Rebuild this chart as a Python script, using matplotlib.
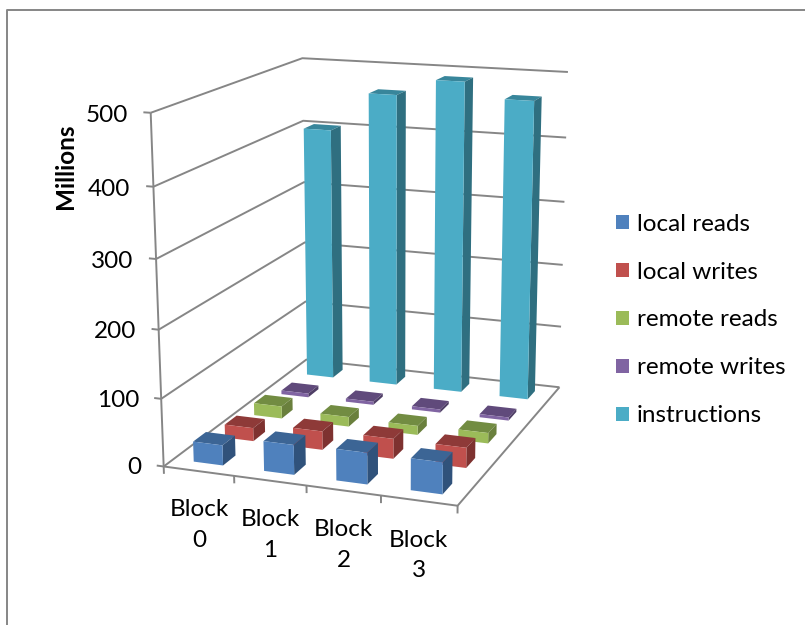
#!/usr/bin/env python3
# -*- coding: utf-8 -*-

import numpy as np
import matplotlib
matplotlib.use('Agg')
import matplotlib.pyplot as plt
from matplotlib.lines import Line2D
from matplotlib.patches import Patch
from mpl_toolkits.mplot3d.art3d import Line3DCollection

plt.rcParams['font.family'] = ['Lato', 'DejaVu Sans']

blocks = ['Block\n0', 'Block\n1', 'Block\n2', 'Block\n3']
series = ['local reads', 'local writes', 'remote reads', 'remote writes', 'instructions']
local_reads = [30, 44, 46, 46]
local_writes = [20, 28, 30, 30]
remote_reads = [19, 15, 14, 16]
remote_writes = [6, 5, 5, 5]
instructions = [402, 463, 489, 466]
z_ticks = [0, 100, 200, 300, 400, 500]

# front, top and side shades per series
front_colors = ['#4F81BD', '#C0504D', '#9BBB59', '#8064A2', '#4BACC6']
top_colors = ['#3C6595', '#8E3A38', '#728C42', '#604A7B', '#38869B']
side_colors = ['#30527B', '#7E3230', '#6A803D', '#4F3E66', '#2F6F80']
GRID = '#868686'
W, H = 805, 625

# box corners in data units and where they sit on the canvas, for the camera
box_corners = [(0, 0, 0), (4, 0, 0), (4, 5, 0), (0, 5, 0), (0, 0, 500), (0, 5, 500), (4, 5, 500)]
box_pixels = [(163, 466), (458, 506), (559, 387), (307, 360), (151, 113), (302, 58), (568, 72)]


def fit_camera(corners, pixels):
    # plain DLT on normalised coordinates, 3x4 matrix from data to pixels
    rows = []
    for (X, Y, Z), (u, v) in zip(corners, pixels):
        p = [X / 4, Y / 5, Z / 500, 1]
        u, v = u / W, v / H
        rows.append(p + [0, 0, 0, 0] + [-u * c for c in p])
        rows.append([0, 0, 0, 0] + p + [-v * c for c in p])
    P = np.linalg.svd(np.array(rows))[2][-1].reshape(3, 4)
    P = np.diag([W, H, 1]) @ P @ np.diag([1 / 4, 1 / 5, 1 / 500, 1])
    return P / (P[2] @ [2, 2.5, 250, 1])


camera = fit_camera(box_corners, box_pixels)


def get_proj():
    # pixels (y down) -> display -> the 2D limits of the 3d axes
    to_display = np.array([[1, 0, 0], [0, -1, H], [0, 0, 1]], dtype=float)
    A = ax.transData.inverted().get_matrix() @ to_display @ camera
    depth = np.array([-0.1, 1, 0, 0])
    return np.vstack([A[0], A[1], depth, A[2]])


def label(x, y, z, s, **kw):
    # text at a data position, placed in figure coordinates
    u, v, w = camera @ [x, y, z, 1]
    fig.text(u / w / W, 1 - v / w / H, s, fontsize=17.5, color='black', **kw)


fig = plt.figure(figsize=(W / 100, H / 100), dpi=100)
ax = fig.add_axes([0, 0, 1, 1], projection='3d')
ax.get_proj = get_proj
ax.set_xticks([])
ax.set_yticks([])
ax.set_zticks([])
ax.set_axis_off()
ax.computed_zorder = False

# walls, floor and ticks as one set of segments
segments = []
for v in z_ticks:
    segments.append([(0, 0, v), (0, 5, v), (4, 5, v)])
    segments.append([(-0.1, 0, v), (0, 0, v)])
segments.append([(0, 0, 0), (0, 0, 500)])
segments.append([(0, 0, 0), (4, 0, 0), (4, 5, 0)])
for i in range(len(blocks) + 1):
    segments.append([(i, 0, 0), (i, 0, -11)])
grid = Line3DCollection(segments, colors=GRID, linewidths=1.4, zorder=1)
ax.add_collection3d(grid, autolim=False)

for v in z_ticks:
    label(-0.32, 0, v - 6, str(v), ha='right', va='center')
for i, name in enumerate(blocks):
    label(i + 0.5, 0, -42, name, ha='center', va='top', linespacing=1.55)

# bars, back row first
values = [local_reads, local_writes, remote_reads, remote_writes, instructions]
bar_w = 0.42
bar_d = 0.4
hidden = (0, 0, 0, 0)
order = 10
for s in reversed(range(len(series))):
    for b in range(len(blocks)):
        # bar3d face order: -z, +z, -y, +y, -x, +x
        faces = [hidden, top_colors[s], front_colors[s], hidden, hidden, side_colors[s]]
        bar = ax.bar3d(b + 0.5 - bar_w / 2, s + 0.5 - bar_d / 2, 0, bar_w, bar_d, values[s][b],
                       color=faces, shade=False, edgecolor='none', linewidth=0)
        bar.set_zorder(order)
        order += 1

fig.text(65 / W, 1 - 166 / H, 'Millions', rotation=90, ha='center', va='center',
         fontsize=17.5, fontweight='bold', color='black')

handles = [Patch(facecolor=c, edgecolor='none') for c in front_colors]
fig.legend(handles, series, loc='center left', bbox_to_anchor=(616 / W, 1 - 320 / H),
           frameon=False, fontsize=17.5, handlelength=0.55, handleheight=0.55,
           handletextpad=0.3, labelspacing=1.11, borderpad=0, borderaxespad=0)

# chart frame
fig.add_artist(Line2D([7 / W, 7 / W, 1], [0, 1 - 10 / H, 1 - 10 / H], color=GRID, lw=1.4))

fig.savefig('out.png', dpi=100)
